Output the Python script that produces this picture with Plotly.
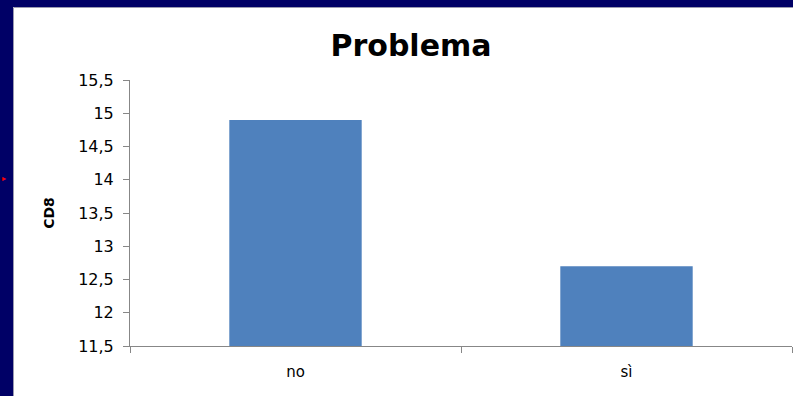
import plotly.graph_objects as go

categories = ["no", "sì"]
values = [14.9, 12.7]
y_ticks = [11.5, 12, 12.5, 13, 13.5, 14, 14.5, 15, 15.5]

W, H = 793, 396
L, R, T, B = 130, 1, 80, 50
pw, ph = W - L - R, H - T - B

def px(x):
    return (x - L) / pw

def py(y):
    return (H - B - y) / ph

fig = go.Figure(go.Bar(x=categories, y=values, marker_color="#4F81BD",
                       marker_line_width=0, width=0.4))

navy = "#000066"
shapes = [
    dict(type="rect", xref="paper", yref="paper", x0=px(0), x1=px(W), y0=py(7), y1=py(0),
         fillcolor=navy, line_width=0, layer="below"),
    dict(type="rect", xref="paper", yref="paper", x0=px(0), x1=px(13), y0=py(H), y1=py(0),
         fillcolor=navy, line_width=0, layer="below"),
    dict(type="line", xref="paper", yref="paper", x0=px(13.5), x1=px(W), y0=py(7.5), y1=py(7.5),
         line=dict(color="#9a9ab0", width=1), layer="below"),
    dict(type="line", xref="paper", yref="paper", x0=px(13.5), x1=px(13.5), y0=py(H), y1=py(7.5),
         line=dict(color="#9a9ab0", width=1), layer="below"),
]

fig.update_layout(
    width=W, height=H,
    margin=dict(l=L, r=R, t=T, b=B),
    paper_bgcolor="white", plot_bgcolor="white",
    separators=", ",
    shapes=shapes,
    showlegend=False,
    title=dict(text="<b>Problema</b>", x=px(411), xref="paper", xanchor="center",
               y=1 - 45 / H, yanchor="middle",
               font=dict(family="DejaVu Sans", size=30, color="black")),
    font=dict(family="DejaVu Sans", color="black"),
    bargap=0.6,
)

fig.update_xaxes(
    showline=True, linecolor="#878787", linewidth=1,
    ticks="outside", tickson="boundaries", ticklen=6, tickcolor="#878787",
    tickfont=dict(size=15, family="DejaVu Sans"),
    ticklabelstandoff=12,
    showgrid=False, zeroline=False,
)
fig.update_yaxes(
    range=[11.5, 15.5], tickvals=y_ticks,
    showline=True, linecolor="#878787", linewidth=1,
    ticks="outside", ticklen=6, tickcolor="#878787",
    tickfont=dict(size=16, family="DejaVu Sans"),
    ticklabelstandoff=6,
    showgrid=False, zeroline=False,
    title=dict(text="<b>CD8</b>", font=dict(size=14, family="DejaVu Sans"), standoff=20),
)

fig.add_annotation(xref="paper", yref="paper", x=px(0), y=py(178), text="▸",
                   showarrow=False, font=dict(color="red", size=8), xanchor="left")

fig.write_html("out.html")
